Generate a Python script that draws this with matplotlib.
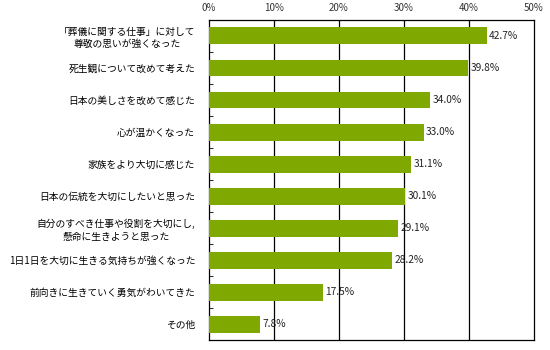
import numpy as np
import matplotlib; matplotlib.use("Agg"); import matplotlib.pyplot as plt

plt.rcParams['font.family'] = ['Noto Sans CJK JP', 'DejaVu Sans']

labels = ["「葬儀に関する仕事」に対して\n尊敬の思いが強くなった", "死生観について改めて考えた",
          "日本の美しさを改めて感じた", "心が温かくなった", "家族をより大切に感じた",
          "日本の伝統を大切にしたいと思った", "自分のすべき仕事や役割を大切にし,\n懸命に生きようと思った",
          "1日1日を大切に生きる気持ちが強くなった", "前向きに生きていく勇気がわいてきた", "その他"]
values = [42.7, 39.8, 34.0, 33.0, 31.1, 30.1, 29.1, 28.2, 17.5, 7.8]
xticks = [0, 10, 20, 30, 40, 50]

fig = plt.figure(figsize=(5.5, 3.5), dpi=100)
ax = fig.add_axes([0.38, 0.028, 0.591, 0.915])
y = np.arange(len(values))
ax.barh(y, values, height=0.53, color="#7FA800", zorder=3)
for yi, v in zip(y, values):
    ax.text(v + 0.4, yi, f"{v:.1f}%", va="center", ha="left", fontsize=7.3, color="#222222")
ax.set_xlim(0, 50); ax.set_ylim(len(values) - 0.5, -0.5)
ax.set_xticks(xticks); ax.set_xticklabels([f"{t}%" for t in xticks], fontsize=7, color="#333333")
ax.xaxis.tick_top(); ax.tick_params(axis="x", length=0, pad=5)
ax.set_yticks(y); ax.set_yticklabels(labels, fontsize=7, linespacing=1.3, multialignment="center")
ax.tick_params(axis="y", length=0, pad=10)
ax.set_yticks(np.arange(0.5, len(values) - 1, 1), minor=True)
ax.tick_params(axis="y", which="minor", length=3, direction="in")
for t in xticks[1:-1]:
    ax.axvline(t, color="black", lw=0.9, zorder=2)
for s in ax.spines.values():
    s.set_color("black"); s.set_linewidth(0.9)
fig.savefig("out.png", dpi=100)
